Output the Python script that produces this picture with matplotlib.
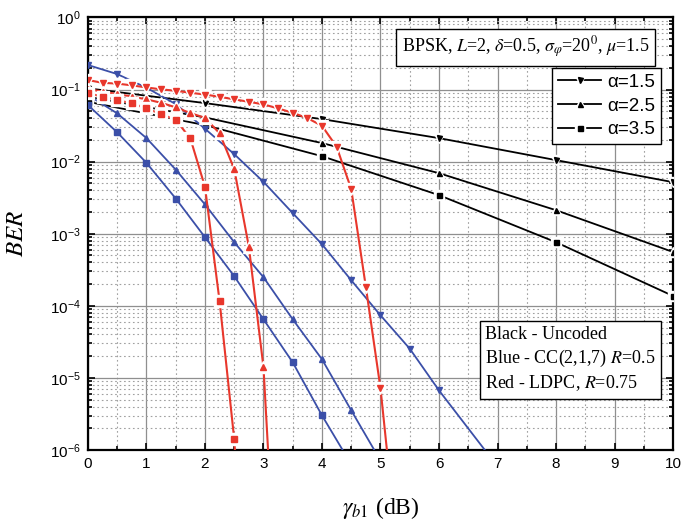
import numpy as np
import matplotlib
matplotlib.use("Agg")
import matplotlib.pyplot as plt
from matplotlib.ticker import MultipleLocator, LogLocator, NullFormatter, FixedLocator
from matplotlib.lines import Line2D

plt.rcParams["font.family"] = ["Liberation Sans", "DejaVu Sans"]
plt.rcParams["mathtext.fontset"] = "stix"

# ---- data ----
alpha_labels = ["α=1.5", "α=2.5", "α=3.5"]
markers = ["v", "^", "s"]

# uncoded (black)
snr_unc = [0, 2, 4, 6, 8, 10]
ber_unc_15 = [0.104, 0.0649, 0.0389, 0.0212, 0.0105, 5.19e-3]
ber_unc_25 = [0.0794, 0.0411, 0.0181, 6.92e-3, 2.12e-3, 5.58e-4]
ber_unc_35 = [0.0677, 0.0321, 0.0119, 3.43e-3, 7.62e-4, 1.37e-4]

# CC(2,1,7) R=0.5 (blue)
snr_cc_15 = [0, 0.5, 1, 1.5, 2, 2.5, 3, 3.5, 4, 4.5, 5, 5.5, 6, 7]
ber_cc_15 = [0.219, 0.164, 0.106, 0.0629, 0.0286, 0.0127, 5.24e-3, 1.93e-3,
             7.14e-4, 2.26e-4, 7.38e-5, 2.54e-5, 6.7e-6, 5.9e-7]
snr_cc_25 = [0, 0.5, 1, 1.5, 2, 2.5, 3, 3.5, 4, 4.5, 5]
ber_cc_25 = [0.0839, 0.0467, 0.0212, 7.74e-3, 2.55e-3, 7.62e-4, 2.49e-4,
             6.49e-5, 1.81e-5, 3.54e-6, 7.1e-7]
snr_cc_35 = [0, 0.5, 1, 1.5, 2, 2.5, 3, 3.5, 4, 4.5]
ber_cc_35 = [0.0609, 0.0255, 9.62e-3, 3.08e-3, 8.94e-4, 2.57e-4, 6.49e-5,
             1.64e-5, 3.01e-6, 6.3e-7]

# LDPC R=0.75 (red)
snr_ldpc_15 = [0, 0.25, 0.5, 0.75, 1, 1.25, 1.5, 1.75, 2, 2.25, 2.5, 2.75,
               3, 3.25, 3.5, 3.75, 4, 4.25, 4.5, 4.75, 5, 5.25]
ber_ldpc_15 = [0.1355, 0.124, 0.121, 0.1144, 0.107, 0.1007, 0.0962, 0.0903,
               0.0853, 0.0794, 0.0731, 0.0677, 0.0623, 0.0548, 0.0476, 0.0402,
               0.0314, 0.0161, 4.15e-3, 1.82e-4, 7.15e-6, 8e-8]
snr_ldpc_25 = [0, 0.25, 0.5, 0.75, 1, 1.25, 1.5, 1.75, 2, 2.25, 2.5, 2.75,
               3, 3.25]
ber_ldpc_25 = [0.1016, 0.0938, 0.0866, 0.08, 0.0731, 0.0656, 0.0566, 0.0472,
               0.0405, 0.0247, 7.9e-3, 6.6e-4, 1.4e-5, 3e-9]
snr_ldpc_35 = [0, 0.25, 0.5, 0.75, 1, 1.25, 1.5, 1.75, 2, 2.25, 2.5, 2.75]
ber_ldpc_35 = [0.0894, 0.0794, 0.0715, 0.0643, 0.0548, 0.0457, 0.038, 0.021,
               4.47e-3, 1.15e-4, 1.4e-6, 1e-9]

BLACK = "black"
BLUE = "#3b4fa8"
RED = "#e8372c"


def draw(ax, x, y, color, marker, ms, lw, gap, z):
  # line, then a white halo ("gap to symbol"), then the symbol itself
  ax.plot(x, y, color=color, lw=lw, zorder=z)
  if gap:
    ax.plot(x, y, ls="none", marker=marker, ms=ms + gap, mfc="white",
            mec="white", zorder=z + 0.1)
  ax.plot(x, y, ls="none", marker=marker, ms=ms, mfc=color, mec=color,
          zorder=z + 0.2)


def main():
  fig = plt.figure(figsize=(6.83, 5.22), dpi=100)
  ax = fig.add_axes([0.1288, 0.138, 0.8566, 0.8285])

  unc = [ber_unc_15, ber_unc_25, ber_unc_35]
  cc = [(snr_cc_15, ber_cc_15), (snr_cc_25, ber_cc_25), (snr_cc_35, ber_cc_35)]
  ldpc = [(snr_ldpc_15, ber_ldpc_15), (snr_ldpc_25, ber_ldpc_25),
          (snr_ldpc_35, ber_ldpc_35)]

  z = 3
  for i in range(3):
    draw(ax, snr_unc, unc[i], BLACK, markers[i], 3.6, 1.3, 3.2, z)
    z += 1
  for i in range(3):
    draw(ax, cc[i][0], cc[i][1], BLUE, markers[i], 5.0, 1.3, 0, z)
    z += 1
  for i in range(3):
    draw(ax, ldpc[i][0], ldpc[i][1], RED, markers[i], 4.8, 1.5, 3.4, z)
    z += 1

  ax.set_yscale("log")
  ax.set_xlim(0, 10)
  ax.set_ylim(1e-6, 1)

  ax.xaxis.set_major_locator(MultipleLocator(1))
  ax.xaxis.set_minor_locator(MultipleLocator(0.5))
  decades = [-6, -5, -4, -3, -2, -1, 0]
  ax.yaxis.set_major_locator(FixedLocator([10.0 ** d for d in decades]))
  ax.set_yticklabels([r"$\mathregular{10^{%d}}$" % d for d in decades])
  ax.yaxis.set_minor_locator(LogLocator(base=10, subs=np.arange(2, 10)))
  ax.yaxis.set_minor_formatter(NullFormatter())

  ax.tick_params(which="both", direction="in", top=True, right=True,
                 labelsize=11, width=1.2)
  ax.tick_params(which="major", length=5, pad=5)
  ax.tick_params(which="minor", length=3)
  for sp in ax.spines.values():
    sp.set_linewidth(1.6)

  ax.set_axisbelow(True)
  ax.grid(which="major", color="#8f8f8f", lw=0.9, ls="-")
  ax.grid(which="minor", color="#a0a0a0", lw=0.8, ls=(0, (1.5, 2.5)))

  ax.set_ylabel(r"$BER$", fontsize=18, labelpad=16)
  ax.set_xlabel(r"$\gamma_{b1}$ (dB)", fontsize=17, family="Liberation Serif",
                labelpad=17)

  ax.text(0.748, 0.931,
          r"BPSK, $L$=2, $\delta$=0.5, $\sigma_{\varphi}$=20$^{0}$, $\mu$=1.5",
          transform=ax.transAxes, ha="center", va="center", fontsize=13,
          family="Liberation Serif", zorder=20,
          bbox=dict(boxstyle="square,pad=0.3", fc="white", ec="black", lw=1))

  ax.text(0.679, 0.209,
          "Black - Uncoded\nBlue - CC(2,1,7) $R$=0.5\nRed - LDPC, $R$=0.75",
          transform=ax.transAxes, ha="left", va="center", fontsize=13,
          family="Liberation Serif", linespacing=1.33, zorder=20,
          bbox=dict(boxstyle="square,pad=0.3", fc="white", ec="black", lw=1))

  handles = []
  for i in range(3):
    ln = Line2D([], [], color=BLACK, lw=1.3)
    wh = Line2D([], [], ls="none", marker=markers[i], ms=7.2, mfc="white",
                mec="white")
    mk = Line2D([], [], ls="none", marker=markers[i], ms=3.6, mfc=BLACK,
                mec=BLACK)
    handles.append((ln, wh, mk))
  leg = ax.legend(handles, alpha_labels, loc="upper right",
                  bbox_to_anchor=(0.98, 0.883), borderaxespad=0,
                  fontsize=13.5, fancybox=False, edgecolor="black",
                  framealpha=1, handlelength=2.3, handletextpad=0.35,
                  labelspacing=0.35, borderpad=0.3)
  leg.get_frame().set_linewidth(1)
  leg.set_zorder(20)

  fig.savefig("out.png", dpi=100)


if __name__ == "__main__":
  main()
